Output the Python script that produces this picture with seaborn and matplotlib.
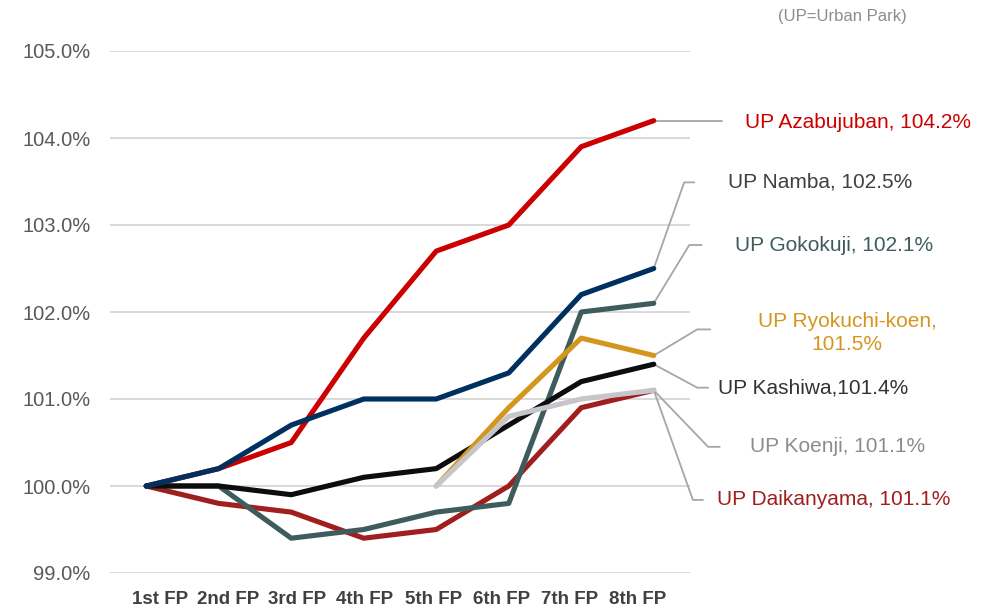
import pandas as pd
import numpy as np
import matplotlib
matplotlib.use("Agg")
import matplotlib.pyplot as plt
import seaborn as sns

# ---------------------------------------------------------------
# data (index, 1st FP = 100%)
# ---------------------------------------------------------------
periods = ["1st FP", "2nd FP", "3rd FP", "4th FP", "5th FP", "6th FP", "7th FP", "8th FP"]

azabujuban = [100.0, 100.2, 100.5, 101.7, 102.7, 103.0, 103.9, 104.2]
namba = [100.0, 100.2, 100.7, 101.0, 101.0, 101.3, 102.2, 102.5]
gokokuji = [100.0, 100.0, 99.4, 99.5, 99.7, 99.8, 102.0, 102.1]
ryokuchi = [np.nan, np.nan, np.nan, np.nan, 100.0, 100.9, 101.7, 101.5]
kashiwa = [100.0, 100.0, 99.9, 100.1, 100.2, 100.7, 101.2, 101.4]
koenji = [np.nan, np.nan, np.nan, np.nan, 100.0, 100.8, 101.0, 101.1]
daikanyama = [100.0, 99.8, 99.7, 99.4, 99.5, 100.0, 100.9, 101.1]

series = {
    "UP Daikanyama": daikanyama,
    "UP Gokokuji": gokokuji,
    "UP Kashiwa": kashiwa,
    "UP Ryokuchi-koen": ryokuchi,
    "UP Koenji": koenji,
    "UP Azabujuban": azabujuban,
    "UP Namba": namba,
}

line_colors = {
    "UP Azabujuban": "#cc0000",
    "UP Namba": "#00305f",
    "UP Gokokuji": "#3e5c5c",
    "UP Ryokuchi-koen": "#d4961e",
    "UP Kashiwa": "#0d0d0d",
    "UP Koenji": "#c6c6ca",
    "UP Daikanyama": "#a11e1e",
}
text_colors = {
    "UP Azabujuban": "#cc0000",
    "UP Namba": "#404040",
    "UP Gokokuji": "#3e5c5c",
    "UP Ryokuchi-koen": "#d4961e",
    "UP Kashiwa": "#333333",
    "UP Koenji": "#8c8c8c",
    "UP Daikanyama": "#a11e1e",
}

# end labels: key, text, leader elbow x, elbow y, leader end x, text x, text y, align
labels = [
    ("UP Azabujuban", "UP Azabujuban, 104.2%", None, 104.18, 7.94, 8.26, 104.18, "left"),
    ("UP Namba", "UP Namba, 102.5%", 7.42, 103.49, 7.56, 8.03, 103.49, "left"),
    ("UP Gokokuji", "UP Gokokuji, 102.1%", 7.49, 102.77, 7.66, 8.12, 102.77, "left"),
    ("UP Ryokuchi-koen", "UP Ryokuchi-koen,\n101.5%", 7.60, 101.80, 7.78, 9.67, 101.76, "center"),
    ("UP Kashiwa", "UP Kashiwa,101.4%", 7.60, 101.13, 7.75, 7.88, 101.13, "left"),
    ("UP Koenji", "UP Koenji, 101.1%", 7.75, 100.45, 7.91, 8.33, 100.45, "left"),
    ("UP Daikanyama", "UP Daikanyama, 101.1%", 7.54, 99.84, 7.68, 7.87, 99.84, "left"),
]

rows = []
for name, vals in series.items():
    for p, v in zip(periods, vals):
        rows.append({"Period": p, "Property": name, "Index": v})
df = pd.DataFrame(rows)

# ---------------------------------------------------------------
# plot
# ---------------------------------------------------------------
sns.set_style("white")
plt.rcParams["font.family"] = ["Liberation Sans", "DejaVu Sans"]

fig = plt.figure(figsize=(9.92, 6.14), dpi=100)
ax = fig.add_axes([110 / 992, 1 - 573 / 614, 580 / 992, 522 / 614])

sns.lineplot(data=df, x="Period", y="Index", hue="Property",
             hue_order=list(series.keys()), palette=line_colors,
             linewidth=3.7, sort=False, legend=False, ax=ax,
             solid_capstyle="round", solid_joinstyle="round")

ax.set_xlim(-0.5, 7.5)
ax.set_ylim(99.0, 105.0)
ax.set_yticks(np.arange(99.0, 105.01, 1.0))
ax.set_yticklabels([f"{v:.1f}%" for v in np.arange(99.0, 105.01, 1.0)],
                   fontsize=14.5, color="#595959")
# category labels sit a little tighter than the points in the original
tick_pos = [0.19 + i * 0.942 for i in range(len(periods))]
ax.set_xticks(tick_pos)
ax.set_xticklabels(periods, fontsize=13.5, fontweight="bold", color="#404040")
ax.tick_params(axis="both", length=0)
ax.tick_params(axis="y", pad=14)
ax.tick_params(axis="x", pad=13)
ax.set_xlabel("")
ax.set_ylabel("")
for s in ax.spines.values():
    s.set_visible(False)
ax.grid(axis="y", color="#d9d9d9", linewidth=1.4)
ax.grid(axis="x", visible=False)
ax.set_axisbelow(True)

# leader lines + end labels
last = {name: vals[-1] for name, vals in series.items()}
for key, txt, ex, ey, endx, tx, ty, ha in labels:
    y0 = last[key]
    if ex is None:
        xs, ys = [7, endx], [y0, y0]
    else:
        xs, ys = [7, ex, endx], [y0, ey, ey]
    ax.plot(xs, ys, color="#a6a6a6", linewidth=1.3, clip_on=False, zorder=1)
    ax.text(tx, ty, txt, color=text_colors[key], fontsize=15,
            ha=ha, va="center", multialignment="center", clip_on=False,
            linespacing=1.3)

fig.text(842 / 992, 1 - 17 / 614, "(UP=Urban Park)", fontsize=12,
         color="#8c8c8c", ha="center", va="center")

fig.savefig("out.png", dpi=100)
